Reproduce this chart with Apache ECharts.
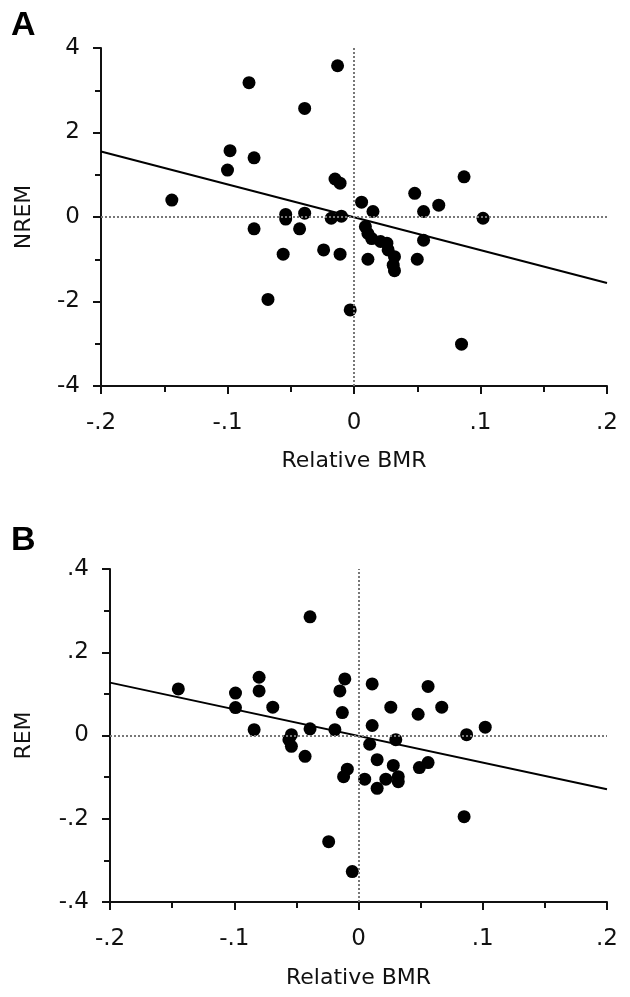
<!DOCTYPE html>
<html>
<head>
<meta charset="utf-8">
<script src="https://cdn.jsdelivr.net/npm/echarts@6/dist/echarts.min.js"></script>
<style>html,body{margin:0;padding:0;background:#fff}#c{width:630px;height:997px}</style>
</head>
<body>
<div id="c"></div>
<script>
// Panel A: Relative BMR (x) vs NREM residual (y)
var bmrA = [-0.144,-0.100,-0.098,-0.083,-0.079,-0.079,-0.068,-0.056,-0.054,-0.054,-0.043,-0.039,-0.039,-0.024,-0.018,-0.015,-0.013,-0.011,-0.011,-0.010,-0.003,0.006,0.009,0.011,0.011,0.014,0.015,0.021,0.026,0.027,0.031,0.032,0.032,0.048,0.050,0.055,0.055,0.067,0.085,0.087,0.102];
var nrem = [0.40,1.11,1.57,3.18,1.40,-0.28,-1.95,-0.88,0.06,-0.05,-0.28,0.09,2.57,-0.78,-0.03,0.90,3.58,0.80,-0.88,0.02,-2.20,0.35,-0.23,-0.39,-1.00,-0.51,0.13,-0.58,-0.62,-0.78,-1.14,-0.94,-1.27,0.56,-1.00,0.13,-0.55,0.28,-3.01,0.95,-0.03];
var fitA = [[-0.2,1.55],[0.2,-1.56]];

// Panel B: Relative BMR (x) vs REM residual (y)
var bmrB = [-0.145,-0.099,-0.099,-0.084,-0.080,-0.080,-0.069,-0.054,-0.056,-0.054,-0.043,-0.039,-0.039,-0.024,-0.019,-0.015,-0.011,-0.013,-0.009,-0.012,-0.005,0.011,0.011,0.009,0.005,0.015,0.015,0.022,0.026,0.028,0.030,0.032,0.032,0.048,0.049,0.056,0.056,0.067,0.085,0.087,0.102];
var rem = [0.112,0.102,0.067,0.014,0.140,0.107,0.068,0.002,-0.010,-0.026,-0.050,0.016,0.285,-0.255,0.014,0.107,0.136,0.055,-0.081,-0.099,-0.327,0.124,0.024,-0.021,-0.105,-0.058,-0.127,-0.105,0.068,-0.072,-0.010,-0.099,-0.111,0.051,-0.077,0.118,-0.065,0.068,-0.195,0.002,0.020];
var fitB = [[-0.2,0.127],[0.2,-0.129]];

// Tick labels
var xTicks = ['-.2','-.1','0','.1','.2'];
var yTicksA = ['-4','-2','0','2','4'];
var yTicksB = ['-.4','-.2','0','.2','.4'];

function zip(a,b){return a.map(function(v,i){return [v,b[i]];});}

var FONT = '"DejaVu Sans", Verdana, sans-serif';
var INK = '#111';

function xAxis(idx,gap){
  return {
    type:'value', gridIndex:idx, min:-0.2, max:0.2, interval:0.1,
    name:'Relative BMR', nameLocation:'middle', nameGap:gap,
    nameTextStyle:{fontFamily:FONT,fontSize:22,color:INK},
    axisLine:{onZero:false,lineStyle:{color:INK,width:2}},
    axisTick:{length:8,lineStyle:{color:INK,width:2}},
    minorTick:{show:true,splitNumber:2,length:6,lineStyle:{color:INK,width:2}},
    splitLine:{show:false},
    axisLabel:{margin:26,fontFamily:FONT,fontSize:23,color:INK,
      formatter:function(v){return xTicks[Math.round((v+0.2)*10)];}}
  };
}
function yAxis(idx,min,max,interval,ticks,name,gap){
  return {
    type:'value', gridIndex:idx, min:min, max:max, interval:interval,
    name:name, nameLocation:'middle', nameGap:gap,
    nameTextStyle:{fontFamily:FONT,fontSize:22,color:INK},
    axisLine:{onZero:false,lineStyle:{color:INK,width:2}},
    axisTick:{length:8,lineStyle:{color:INK,width:2}},
    minorTick:{show:true,splitNumber:2,length:6,lineStyle:{color:INK,width:2}},
    splitLine:{show:false},
    axisLabel:{margin:21,fontFamily:FONT,fontSize:23,color:INK,
      formatter:function(v){return ticks[Math.round((v-min)/interval)];}}
  };
}
function refLines(){
  return {
    silent:true, symbol:'none', label:{show:false},
    lineStyle:{type:'dotted',color:'#777',width:2},
    data:[{yAxis:0},{xAxis:0}]
  };
}

var chart = echarts.init(document.getElementById('c'), null, {renderer:'canvas'});
chart.setOption({
  backgroundColor:'#fff',
  animation:false,
  graphic:[
    {type:'text',left:11,top:9,style:{text:'A',font:'bold 34px "Liberation Sans", Arial, sans-serif',fill:'#000'}},
    {type:'text',left:11,top:524,style:{text:'B',font:'bold 34px "Liberation Sans", Arial, sans-serif',fill:'#000'}}
  ],
  grid:[
    {left:101,top:48,width:506,height:338,outerBoundsMode:'none',containLabel:false},
    {left:110,top:569,width:497,height:333,outerBoundsMode:'none',containLabel:false}
  ],
  xAxis:[xAxis(0,64),xAxis(1,65)],
  yAxis:[
    yAxis(0,-4,4,2,yTicksA,'NREM',66),
    yAxis(1,-0.4,0.4,0.2,yTicksB,'REM',75)
  ],
  series:[
    {type:'scatter',xAxisIndex:0,yAxisIndex:0,data:zip(bmrA,nrem),symbolSize:13,
      itemStyle:{color:'#000',opacity:1},markLine:refLines(),z:3},
    {type:'line',xAxisIndex:0,yAxisIndex:0,data:fitA,showSymbol:false,symbol:'none',
      lineStyle:{color:'#000',width:2},z:4},
    {type:'scatter',xAxisIndex:1,yAxisIndex:1,data:zip(bmrB,rem),symbolSize:13,
      itemStyle:{color:'#000',opacity:1},markLine:refLines(),z:3},
    {type:'line',xAxisIndex:1,yAxisIndex:1,data:fitB,showSymbol:false,symbol:'none',
      lineStyle:{color:'#000',width:2},z:4}
  ]
});
</script>
</body>
</html>
